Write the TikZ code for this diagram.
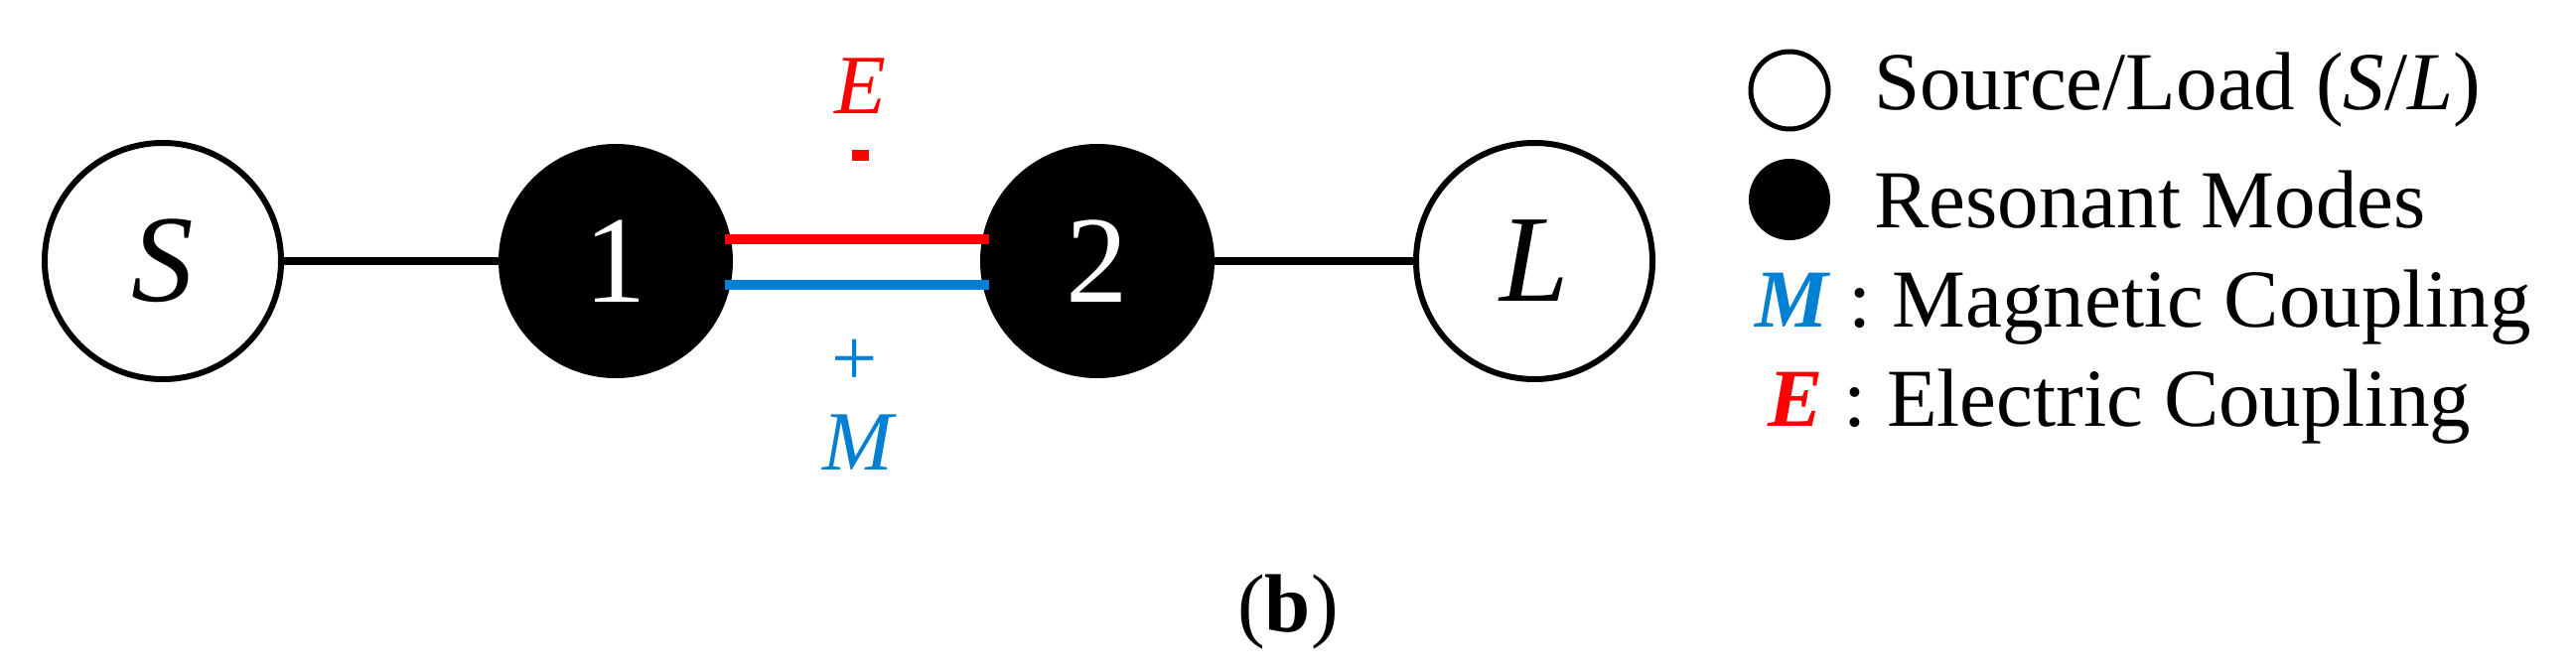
\documentclass[tikz,border=0pt]{standalone}
\usepackage{fontspec}
\setmainfont{Liberation Serif}
\definecolor{ered}{RGB}{255,0,0}
\definecolor{mblue}{RGB}{0,128,210}
\begin{document}
\begin{tikzpicture}[x=1pt,y=-1pt,
  open/.style={circle,draw=black,line width=6pt,fill=white,minimum size=238pt,inner sep=0pt,font=\fontsize{125}{125}\selectfont\itshape},
  res/.style={circle,fill=black,minimum size=236pt,inner sep=0pt,text=white,font=\fontsize{125}{125}\selectfont},
  link/.style={line width=8pt},
  lab/.style={anchor=base,inner sep=0pt,font=\fontsize{85}{85}\selectfont\itshape},
  leg/.style={anchor=west,font=\fontsize{83}{83}\selectfont,inner sep=0pt}]
\useasboundingbox (0,0) rectangle (2594,676);
\node[open] (S) at (164,263) {S};
\node[res] (n1) at (620,263) {1};
\node[res] (n2) at (1105,263) {2};
\node[open] (L) at (1545,263) {L};
\draw[link] (S) -- (n1);
\draw[link] (n2) -- (L);
\draw[line width=10pt,ered] (n1.center)++(110,-22) coordinate (r1) -- ++(266,0) coordinate (r2);
\draw[line width=10pt,mblue] (n1.center)++(110,24) coordinate (b1) -- ++(266,0) coordinate (b2);
\node[lab,text=ered] (E) at (866,115) {E};
\node[fill=ered,minimum width=17pt,minimum height=11pt,inner sep=0pt] (Em) at (866,157) {};
\node[anchor=base,inner sep=0pt,font=\fontsize{82}{82}\selectfont,text=mblue] (Mp) at (861,388) {+};
\node[lab,text=mblue] (M) at (864,473) {M};
% legend
\node[circle,draw=black,line width=5pt,minimum size=78pt,inner sep=0pt] (lo) at (1802,91) {};
\node[circle,fill=black,minimum size=82pt,inner sep=0pt] (lf) at (1802,201) {};
\node[leg] (t1) at (1887,91) {Source/Load (\textit{S}/\textit{L})};
\node[leg] (t2) at (1887,201) {Resonant Modes};
\node[leg] (t3) at (1767,310) {\textcolor{mblue}{\bfseries\itshape M} : Magnetic Coupling};
\node[leg] (t4) at (1780,410) {\textcolor{ered}{\bfseries\itshape E} : Electric Coupling};
\node[font=\fontsize{83}{83}\selectfont] (b) at (1297,617) {(\textbf{b})};
\end{tikzpicture}
\end{document}
